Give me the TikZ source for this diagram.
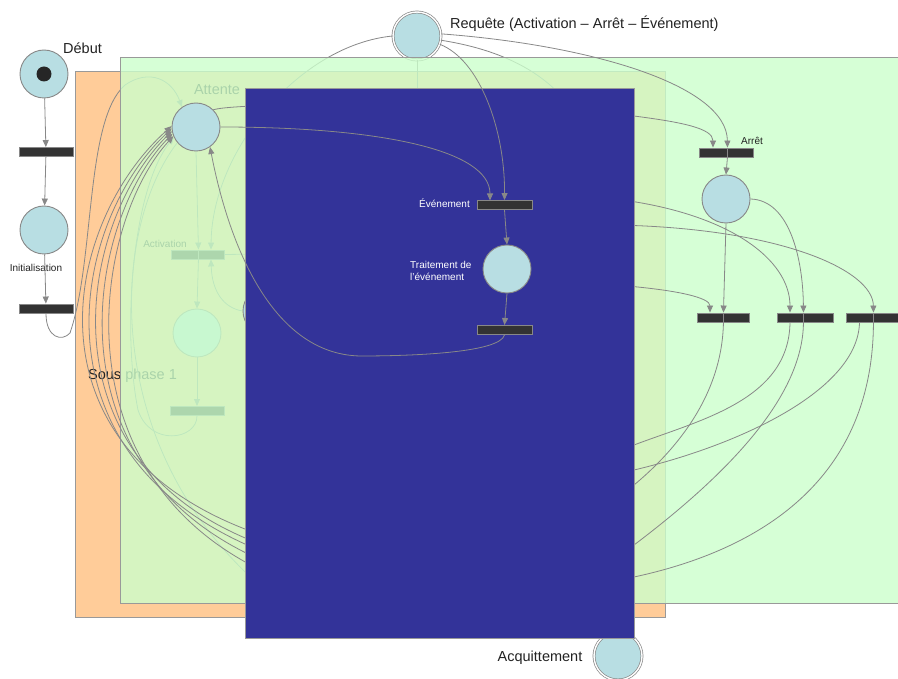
\documentclass[tikz,border=0pt]{standalone}
\usepackage{fontspec}
\setmainfont{Liberation Sans}
\usetikzlibrary{arrows.meta}
\definecolor{placec}{HTML}{B8DEE3}
\definecolor{edgec}{HTML}{888888}
\definecolor{transc}{HTML}{333333}
\definecolor{bluec}{HTML}{333399}
\definecolor{orangec}{HTML}{FFCC99}
\definecolor{greenc}{HTML}{CCFFCC}
\definecolor{borderc}{HTML}{999999}
\definecolor{textc}{HTML}{222222}
\pgfdeclarelayer{orangel}
\pgfdeclarelayer{fadedl}
\pgfdeclarelayer{greenl}
\pgfdeclarelayer{midl}
\pgfdeclarelayer{bluel}
\pgfdeclarelayer{onbluel}
\pgfsetlayers{orangel,fadedl,greenl,midl,bluel,onbluel,main}
\begin{document}
\begin{tikzpicture}[x=1pt,y=-1pt,
  place/.style={circle,draw=edgec,fill=placec,line width=0.9pt,minimum size=48pt,inner sep=0pt},
  dplace/.style={place,double=white,double distance=1.4pt,line width=0.7pt},
  trans/.style={rectangle,draw=edgec,fill=transc,line width=0.9pt,minimum height=9pt,inner sep=0pt},
  arc/.style={draw=edgec,line width=0.8pt},
  arr/.style={arc,-{Triangle[length=7pt,width=6pt]}},
  big/.style={font=\fontsize{14.5}{17}\selectfont,text=textc,inner sep=0pt},
  small/.style={font=\fontsize{10}{12}\selectfont,text=textc,inner sep=0pt},
]
\useasboundingbox (0,0) rectangle (898,679);

% ---------- background regions ----------
\begin{pgfonlayer}{orangel}
\fill[white] (0,0) rectangle (898,679);
\draw[draw=borderc,fill=orangec,line width=0.8pt] (75,71) rectangle (665,617);
\end{pgfonlayer}
\begin{pgfonlayer}{greenl}
\draw[draw=borderc,fill=greenc,fill opacity=0.8,line width=0.8pt] (120,57) rectangle (910,603);
\end{pgfonlayer}
\begin{pgfonlayer}{bluel}
\draw[draw=borderc,fill=bluec,line width=0.8pt] (245,88) rectangle (634,638);
\end{pgfonlayer}

% ---------- top nodes ----------
\node[place] (debut) at (44,74) {};
\node[circle,fill=black!85,minimum size=15pt,inner sep=0pt] (token) at (debut.center) {};
\node[big,anchor=west] (lbldebut) at (63,48) {Début};
\node[trans,minimum width=54pt] (t0) at (46,152) {};
\node[place] (init) at (44,230) {};
\node[small] (lblinit) at (36,268) {Initialisation};
\node[trans,minimum width=54pt] (t1) at (46,308.5) {};
\node[place] (attente) at (196,127) {};
\node[big,anchor=west] (lblreq) at (450,24) {Requête (Activation – Arrêt – Événement)};
\node[small] (lblarret) at (752,141) {Arrêt};
\node[big] (lblacq) at (540,658) {Acquittement};

\draw[arr] (debut) -- (t0);
\draw[arr] (t0) -- (init);
\draw[arr] (init) -- (t1);

% ---------- faded layer (under green) ----------
\begin{pgfonlayer}{fadedl}
\node[dplace] (requete) at (417,36) {};
\node[big] (lblattente) at (217,90) {Attente};
\node[big,anchor=west] (lblsous) at (88,376) {Sous phase 1};
\node[small] (lblact) at (165,244) {Activation};
\node[trans,minimum width=27pt] (actL) at (184.5,254.5) {};
\node[trans,minimum width=26pt] (actR) at (211,254.5) {};
\node[place] (fadedP) at (197,333) {};
\node[trans,minimum width=54pt] (fadedT) at (197,411) {};
\coordinate (hidA) at (262,254);
\coordinate (hidB) at (417,100);
\coordinate (hidC) at (565,100);
\coordinate (hidG) at (265,590);
\end{pgfonlayer}

\begin{pgfonlayer}{midl}
\node[place] (hiddenP) at (267,311) {};
\node[dplace] (acq) at (618,656) {};
\node[trans,minimum width=28pt] (arretL) at (713,152.5) {};
\node[trans,minimum width=26pt] (arretR) at (740,152.5) {};
\node[place] (arretP) at (726,199) {};
\node[trans,minimum width=26pt] (taL) at (710,317.5) {};
\node[trans,minimum width=26pt] (taR) at (736,317.5) {};
\node[trans,minimum width=26pt] (tbL) at (790,317.5) {};
\node[trans,minimum width=30pt] (tbR) at (818,317.5) {};
\node[trans,minimum width=27pt] (tcL) at (859.5,317.5) {};
\node[trans,minimum width=27pt] (tcR) at (886.5,317.5) {};
\coordinate (hidD) at (615,199);
\coordinate (hidE) at (615,225);
\coordinate (hidF) at (615,285);
\end{pgfonlayer}

\begin{pgfonlayer}{onbluel}
\node[trans,minimum width=55pt] (evT) at (504.5,205) {};
\node[small,text=white,anchor=east] (lblev) at (470,203) {Événement};
\node[place] (trait) at (507,269) {};
\node[small,text=white,anchor=west,align=left] (lbltrait) at (410,271) {Traitement de\\l'événement};
\node[trans,minimum width=55pt] (traitT) at (504.5,330) {};
\coordinate (evIn) at (490,200.5);
\end{pgfonlayer}

% ---------- faded edges ----------
\begin{pgfonlayer}{fadedl}
\draw[arr] (attente.south) -- (actL.north east);
\draw[arr] (actL.south east) -- (fadedP.north);
\draw[arr] (fadedP.south) -- (fadedT.north);
\draw[arr] (fadedT.south) .. controls (197,440) and (150,447) .. (138,410) .. controls (122,330) and (132,190) .. (attente.205);
\draw[arc] (attente.220) .. controls (110,230) and (100,450) .. (hidG);
\draw[arr] (hiddenP.west) .. controls (224,308) and (212,292) .. (actR.south);
\draw[arc] (actR.east) -- (hidA);
\draw[arr] (requete.west) .. controls (300,45) and (212,150) .. (actR.north);
\draw[arc] (requete.south) -- (hidB);
\draw[arc] (requete.-10) .. controls (490,48) and (535,65) .. (hidC);
\draw[arr] (t1.south) .. controls (46,338) and (62,342) .. (70,333) .. controls (95,260) and (85,120) .. (125,85) .. controls (150,68) and (172,80) .. (attente.125);
\end{pgfonlayer}

% ---------- edges above green, under blue ----------
\begin{pgfonlayer}{midl}
\draw[arr] (taL.south east) .. controls (722,400) and (670,455) .. (634,485) .. controls (580,530) and (420,565) .. (340,565) .. controls (25,511) and (71,230) .. (attente.190);
\draw[arr] (tbL.south) .. controls (789,400) and (700,420) .. (634,445) .. controls (560,465) and (420,550) .. (340,555) .. controls (5,495) and (55,230) .. (attente.178);
\draw[arr] (tbL.south east) .. controls (803,400) and (720,480) .. (634,545) .. controls (590,578) and (420,585) .. (340,585) .. controls (35,519) and (79,230) .. (attente.196);
\draw[arr] (tcL.south) .. controls (858,390) and (740,445) .. (634,470) .. controls (560,488) and (420,575) .. (340,575) .. controls (15,503) and (63,230) .. (attente.184);
\draw[arr] (tcL.south east) .. controls (873,480) and (760,550) .. (634,577) .. controls (560,595) and (420,598) .. (340,598) .. controls (45,527) and (87,230) .. (attente.202);
\draw[arr] (attente.45) .. controls (250,100) and (560,105) .. (634,116) .. controls (680,122) and (713,128) .. (arretL.north);
\draw[arr] (hidD) .. controls (730,213) and (790,260) .. (tbL.north);
\draw[arr] (hidE) .. controls (780,228) and (873,270) .. (tcL.north east);
\draw[arr] (hidF) .. controls (680,290) and (710,298) .. (taL.north);
\draw[arr] (arretL.south east) -- (arretP.north);
\draw[arr] (arretP.south) -- (taL.north east);
\draw[arr] (arretP.east) .. controls (790,200) and (803,260) .. (tbL.north east);
\draw[arr] (requete.5) .. controls (590,45) and (727,85) .. (arretL.north east);
\end{pgfonlayer}

% ---------- edges on blue ----------
\begin{pgfonlayer}{onbluel}
\draw[arr] (attente.east) .. controls (380,127) and (490,150) .. (evIn);
\draw[arr] (requete.-20) .. controls (480,60) and (505,130) .. (evT.north);
\draw[arr] (evT.south) -- (trait.north);
\draw[arr] (trait.south) -- (traitT.north);
\draw[arr] (traitT.south) .. controls (500,352) and (420,356) .. (360,356) .. controls (270,354) and (228,240) .. (attente.-55);
\end{pgfonlayer}
\end{tikzpicture}
\end{document}
